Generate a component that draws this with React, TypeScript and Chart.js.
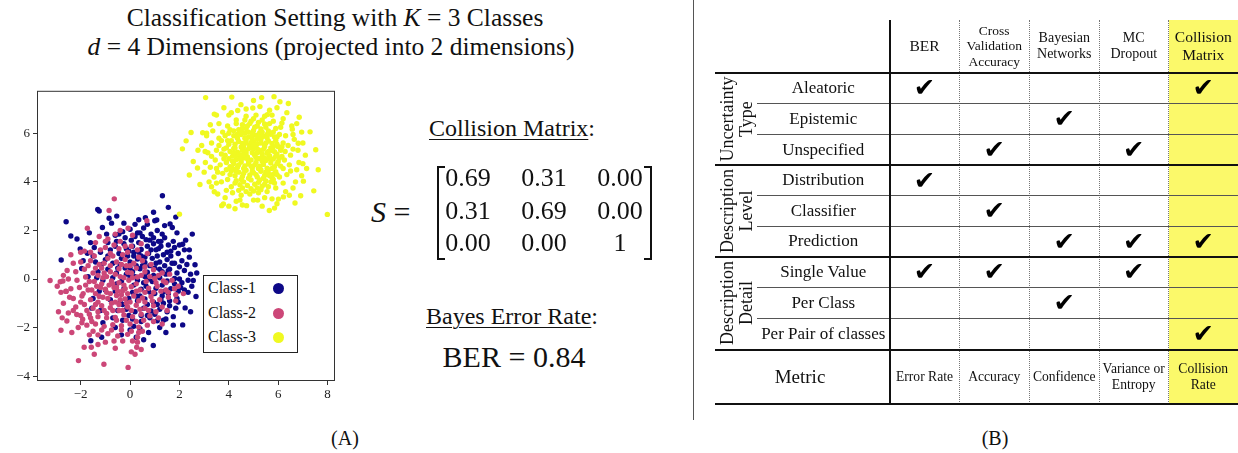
import React, { useEffect, useRef } from "react";
import { Chart, registerables } from "chart.js";
Chart.register(...registerables);

// ---------- DATA ----------
const class1: number[][] = [
  [-0.3,1.95],[0.0,2.05],[0.3,1.9],[0.55,2.1],[0.85,1.85],[1.1,2.0],[-0.6,1.8],[1.4,1.7],
  [-0.9,1.5],[-0.55,1.55],[-0.25,1.45],[0.05,1.6],[0.35,1.5],[0.65,1.62],[0.95,1.45],[1.25,1.55],[1.55,1.4],[1.8,1.3],
  [-1.2,1.1],[-0.8,1.2],[-0.45,1.05],[-0.15,1.25],[0.15,1.1],[0.45,1.22],[0.75,1.05],[1.05,1.2],[1.35,1.0],[1.65,1.15],[1.95,1.05],[2.2,1.2],
  [-1.4,0.7],[-1.0,0.8],[-0.7,0.65],[-0.35,0.85],[0.0,0.7],[0.3,0.82],[0.6,0.68],[0.9,0.85],[1.2,0.7],[1.5,0.8],[1.8,0.65],[2.1,0.75],
  [-1.3,0.3],[-0.9,0.4],[-0.55,0.25],[-0.2,0.45],[0.1,0.3],[0.4,0.42],[0.7,0.28],[1.0,0.45],[1.3,0.3],[1.6,0.4],[1.9,0.25],[2.2,0.35],[2.45,0.2],
  [-1.1,-0.05],[-0.7,0.05],[-0.35,-0.1],[0.0,0.08],[0.3,-0.05],[0.6,0.1],[0.9,-0.1],[1.2,0.05],[1.5,-0.08],[1.8,0.02],[2.1,-0.15],[2.35,-0.05],
  [-1.0,-0.45],[-0.6,-0.5],[-0.25,-0.4],[0.1,-0.55],[0.45,-0.42],[0.75,-0.5],[1.05,-0.38],[1.35,-0.52],[1.65,-0.4],[1.95,-0.5],[2.2,-0.45],
  [-0.8,-0.85],[-0.4,-0.95],[-0.05,-0.8],[0.3,-0.9],[0.6,-0.82],[0.95,-0.95],[1.25,-0.85],[1.6,-0.9],[1.9,-0.8],
  [-0.5,-1.3],[-0.15,-1.25],[0.2,-1.35],[0.55,-1.2],[0.85,-1.32],[1.2,-1.25],[1.5,-1.35],[1.85,-1.2],
  [-0.3,-1.7],[0.1,-1.65],[0.45,-1.75],[0.8,-1.6],[1.1,-1.72],[1.45,-1.65],
  [0.0,-2.1],[0.4,-2.05],[0.75,-2.2],[1.2,-2.0],[1.0,2.4],
  [1.31,3.43],[1.55,2.95],[-1.31,2.86],[-1.25,2.8],[-2.59,2.36],[-2.4,1.77],[-2.79,0.78],[-0.54,2.59],[0.35,2.44],[0.62,2.52],
  [1.08,2.43],[1.62,2.27],[1.71,2.12],[-1.12,2.12],[2.13,1.43],[2.4,1.2],[2.52,1.85],[2.63,0.59],[2.67,-0.72],[2.56,-0.06],
  [2.23,-1.19],[2.13,-1.89],[0.94,-2.74],[-1.15,-2.4],[-1.59,-2.54],[-1.96,0.43],[-1.73,1.06],[-2.02,1.24],
  [-0.75,2.3],[-0.95,1.85],[-1.6,1.5],[-1.5,0.95],[0.2,1.75],[0.7,1.35],[1.15,1.55],[0.45,0.95],[0.8,0.55],[1.1,0.95],
  [1.4,0.55],[0.25,0.55],[-0.1,0.95],[0.55,-0.15],[0.95,0.15],[1.3,-0.25],[0.15,-0.25],[0.4,-0.7],[0.85,-0.6],[1.1,-1.05],
  [0.7,-1.5],[-0.3,-1.05],[-0.7,-1.6],[-1.2,-1.3],[-1.5,-0.8],[-1.7,0.1],[1.75,-1.55],[0.25,-2.4],[-0.35,-2.3],[1.65,0.95],
  [-0.6,1.35],[-0.2,1.7],[0.1,1.35],[0.5,1.75],[0.8,1.6],[1.3,1.85],[1.5,1.1],[1.75,1.55],[2.0,1.4],[-0.4,0.6],
  [0.15,0.95],[0.5,0.55],[0.85,1.2],[1.2,0.4],[1.45,0.2],[1.7,0.65],[2.0,0.5],[2.3,0.6],[2.05,-0.35],[1.8,-0.2],
  [1.55,-0.6],[1.3,-0.7],[1.0,-0.6],[0.65,-0.3],[0.2,0.1],[-0.15,0.2],[-0.5,0.45],[-0.9,0.95],[-1.15,0.6],[-1.35,0.05],
  [0.35,1.1],[0.95,1.7],[1.15,1.25],[0.6,0.9],[0.0,0.45],[1.6,-1.1],[1.35,-1.0],[0.7,-1.05],[0.45,-1.5],[-0.05,-1.5],
  [1.95,-0.95],[2.35,-0.55],[2.4,0.9],[2.25,1.6],[1.9,1.9],[0.7,2.25],[0.2,2.25],[-0.25,2.3],[-0.85,2.5],[1.85,2.55],
  [1.4,2.2],[0.95,2.75],[-1.65,1.9],[-2.15,1.65],[-1.9,0.75],[-1.45,1.3],[-0.05,1.15],[1.0,-1.45],[1.35,-1.7],[0.55,-2.5],
  [1.45,-2.2],[1.75,-1.9],[2.45,-1.35],[2.5,-0.3],[2.7,0.25],[-0.55,-0.2],[-1.25,-0.5],[-1.55,-1.2],[-1.1,-1.8],[-0.6,-2.0],
  [0.15,-1.95],[2.0,0.0],[1.05,0.65],[0.75,0.0],[0.25,-0.7],[1.55,0.35],[1.25,1.35],[0.4,1.9],[-0.45,1.85]
];

const class2: number[][] = [
  [-0.9,1.65],[-0.4,1.55],[0.1,1.8],[-1.4,1.5],[-0.08,2.09],[-0.4,2.0],
  [-1.6,1.1],[-1.2,1.2],[-0.8,1.05],[-0.45,1.25],[-0.1,1.1],[0.3,1.2],[0.7,1.05],[-2.0,1.1],[-1.85,1.15],
  [-2.0,0.7],[-1.6,0.75],[-1.25,0.6],[-0.9,0.85],[-0.55,0.7],[-0.2,0.8],[0.15,0.65],[0.5,0.75],[0.85,0.6],
  [-2.2,0.3],[-1.85,0.4],[-1.5,0.25],[-1.15,0.45],[-0.8,0.3],[-0.45,0.42],[-0.1,0.28],[0.25,0.45],[0.6,0.3],[0.95,0.38],[1.3,0.25],
  [-2.5,0.0],[-2.15,-0.05],[-1.8,0.08],[-1.45,-0.1],[-1.1,0.05],[-0.75,-0.08],[-0.4,0.1],[-0.05,-0.05],[0.3,0.08],[0.65,-0.1],[1.0,0.02],[1.35,-0.08],[1.7,-0.05],
  [-2.4,-0.4],[-2.05,-0.35],[-1.7,-0.45],[-1.35,-0.3],[-1.0,-0.42],[-0.65,-0.35],[-0.3,-0.48],[0.05,-0.32],[0.4,-0.45],[0.75,-0.38],[1.1,-0.3],[1.45,-0.45],[1.8,-0.4],
  [-2.3,-0.8],[-1.95,-0.7],[-1.6,-0.85],[-1.25,-0.72],[-0.9,-0.8],[-0.55,-0.68],[-0.2,-0.82],[0.15,-0.7],[0.5,-0.78],[0.85,-0.72],[1.2,-0.85],[1.55,-0.75],
  [-2.2,-1.15],[-1.85,-1.05],[-1.5,-1.2],[-1.15,-1.1],[-0.8,-1.18],[-0.45,-1.05],[-0.1,-1.15],[0.25,-1.08],[0.6,-1.2],[0.95,-1.1],[1.3,-1.15],
  [-2.0,-1.5],[-1.65,-1.45],[-1.3,-1.55],[-0.95,-1.42],[-0.6,-1.58],[-0.25,-1.48],[0.1,-1.55],[0.45,-1.45],[0.8,-1.52],[1.15,-1.6],
  [-1.75,-1.9],[-1.4,-1.85],[-1.05,-1.95],[-0.7,-1.88],[-0.35,-1.92],[0.0,-1.85],[0.35,-1.98],[0.7,-1.9],
  [-1.3,-2.3],[-0.9,-2.25],[-0.5,-2.35],[-0.1,-2.28],[0.3,-2.4],
  [-0.7,-0.2],[-0.35,-0.65],[-0.95,-0.55],[-0.6,-0.95],[-0.25,-0.25],[-1.15,-0.2],[-0.45,-1.3],[-0.8,0.55],[-1.3,-0.95],[0.0,-0.95],
  [-0.15,0.55],[-1.05,0.25],[-0.5,-0.5],[-1.4,-0.6],[0.25,-0.2],[0.05,0.25],[-0.65,1.4],[-1.0,1.55],[-1.55,-1.75],[-1.8,-0.25],
  [-2.6,-0.5],[-2.7,-1.0],[-2.5,-1.4],
  [-0.64,3.3],[-0.85,2.82],[-1.73,2.09],[0.68,2.4],[-3.24,-0.06],[-2.83,-0.11],[-2.72,-0.08],[-2.8,-2.11],[-2.09,-3.36],[-1.06,-3.51],
  [-0.08,-3.64],[0.2,-3.1],[0.27,-2.81],[-1.86,-2.81],[-1.57,-2.81],[2.16,-0.6],[-2.56,-1.73],[-2.36,-2.2],[-2.59,-0.51],[-2.16,-1.46],
  [-1.92,-1.66],[-1.65,-2.3],[0.3,-2.6],[0.35,-2.2],[1.5,-1.3],[1.85,-0.9],
  [-1.9,-0.6],[-1.55,-0.45],[-1.2,-0.35],[-0.85,-0.25],[-0.45,-0.15],[-0.1,-0.6],[0.25,-0.5],[0.6,-0.55],[0.95,-0.55],[1.25,-0.5],
  [-1.75,-1.3],[-1.4,-1.05],[-1.05,-1.3],[-0.7,-1.3],[-0.3,-1.3],[0.05,-1.3],[0.4,-1.25],[0.75,-1.3],[1.05,-1.35],
  [-1.65,-0.1],[-1.3,0.15],[-0.95,0.1],[-0.6,0.2],[-0.25,0.05],[0.1,0.05],[0.45,0.15],[0.8,0.1],[1.15,0.15],
  [-1.7,0.55],[-1.4,0.45],[-1.05,0.65],[-0.7,0.95],[-0.35,0.6],[0.0,0.55],[0.35,0.9],[0.6,0.5],
  [-1.45,0.95],[-1.0,1.3],[-0.3,1.0],[0.05,1.35],[0.45,1.45],[-1.25,1.75],[-0.6,1.85],[-0.2,1.35],
  [-2.0,-0.95],[-2.45,-0.75],[-2.3,-1.3],[-1.95,-1.8],[-2.1,-2.0],[-1.5,-2.15],[-1.15,-2.1],[-0.75,-2.1],[-0.35,-2.1],[0.05,-2.15],
  [0.5,-2.15],[0.55,-1.7],[0.95,-1.75],[1.3,-1.85],
  [-1.0,-2.6],[-0.65,-2.55],[-0.3,-2.55],[0.1,-2.55],[-1.3,-2.7],[0.45,-2.9],[0.05,-3.0],[-0.6,-2.85],[-1.45,-3.1],
  [-2.8,-0.55],[-2.9,-1.35],[-2.75,-1.6],[-2.95,-0.3],[-2.55,0.35],[-2.3,0.65],[-2.4,1.0],[-2.7,0.15],
  [-0.8,-0.6],[-0.4,-0.85],[-0.15,-1.0],[-0.75,-1.0],[-1.1,-0.75],[-0.2,-0.4],[-0.55,-0.35],[0.35,-0.9],[0.6,-0.95],[0.9,-0.9],
  [1.55,-0.55],[1.45,-0.15],[1.05,-0.15],[1.6,0.2],[1.95,-0.3],[1.85,-0.65],
  [-1.3,-1.35],[-0.95,-1.6],[-0.55,-1.7],[-0.15,-1.7],[0.25,-1.75],[-1.6,-1.6]
];

const class3: number[][] = [
  [4.2,5.9],[4.5,5.95],[4.8,5.85],[5.1,5.92],[5.4,5.88],[5.7,5.96],[4.35,5.8],[4.65,6.0],[4.95,5.78],[5.25,6.02],[5.55,5.82],
  [4.1,5.7],[4.4,5.66],[4.7,5.72],[5.0,5.64],[5.3,5.74],[5.6,5.68],[5.9,5.7],[4.25,5.55],[4.55,5.58],[4.85,5.5],[5.15,5.56],[5.45,5.52],[5.75,5.58],
  [3.9,5.4],[4.2,5.38],[4.5,5.44],[4.8,5.36],[5.1,5.42],[5.4,5.34],[5.7,5.4],[6.0,5.45],[4.05,5.25],[4.35,5.22],[4.65,5.28],[4.95,5.2],[5.25,5.26],[5.55,5.18],[5.85,5.24],[6.1,5.3],
  [3.85,5.1],[4.15,5.06],[4.45,5.12],[4.75,5.04],[5.05,5.1],[5.35,5.02],[5.65,5.08],[5.95,5.14],[4.0,4.95],[4.3,4.92],[4.6,4.98],[4.9,4.9],[5.2,4.96],[5.5,4.88],[5.8,4.94],[6.05,4.98],
  [3.9,4.8],[4.2,4.76],[4.5,4.82],[4.8,4.74],[5.1,4.8],[5.4,4.72],[5.7,4.78],[6.0,4.84],[4.05,4.62],[4.35,4.6],[4.65,4.66],[4.95,4.58],[5.25,4.64],[5.55,4.56],[5.85,4.62],
  [4.1,4.45],[4.4,4.4],[4.7,4.48],[5.0,4.38],[5.3,4.44],[5.6,4.36],[5.9,4.42],[4.25,4.25],[4.55,4.22],[4.85,4.28],[5.15,4.2],[5.45,4.26],[5.75,4.18],
  [4.3,4.05],[4.6,4.0],[4.9,4.08],[5.2,3.98],[5.5,4.04],[5.8,4.1],[4.45,3.88],[4.75,3.85],[5.05,3.9],[5.35,3.82],
  [4.4,6.15],[4.7,6.2],[5.0,6.12],[5.3,6.18],[5.6,6.1],[4.55,6.35],[4.85,6.4],[5.15,6.3],[5.45,6.38],
  [4.6,5.45],[4.9,5.62],[5.2,5.32],[5.5,5.6],[4.3,5.1],[4.7,5.2],[5.0,5.35],[5.35,5.15],[5.75,5.3],[4.4,4.7],
  [4.75,4.95],[5.05,4.7],[5.45,4.98],[5.6,4.5],[4.95,4.45],[4.6,4.35],[5.25,4.08],[4.15,4.55],[5.95,5.55],[4.0,5.55],
  [5.8,4.32],[4.55,5.1],[5.15,5.75],[4.8,6.05],[5.3,4.5],
  [3.6,5.8],[3.5,5.3],[3.45,4.9],[3.55,4.4],[3.7,4.0],[3.9,3.65],[4.15,3.55],[4.5,3.45],[4.85,3.5],[5.2,3.55],
  [5.55,3.6],[5.9,3.75],[6.2,3.95],[6.35,4.3],[6.45,4.7],[6.5,5.1],[6.4,5.5],[6.3,5.9],[6.1,6.25],[5.8,6.5],
  [5.45,6.7],[5.1,6.75],[4.7,6.7],[4.3,6.55],[3.95,6.3],[3.75,6.05],[3.3,5.6],[3.25,4.6],[3.4,4.2],[3.85,3.35],
  [4.3,3.2],[5.0,3.25],[5.75,3.3],[6.3,3.6],[6.7,4.0],[6.75,4.5],[6.8,5.3],[6.65,5.75],[6.55,6.3],[6.2,6.6],
  [5.65,6.95],[4.0,6.75],[3.6,6.4],[3.15,5.2],[3.05,4.8],[3.2,4.0],
  [3.06,7.47],[4.12,7.49],[5.33,7.47],[5.83,7.51],[6.07,7.3],[6.41,7.23],[2.0,2.67],[7.99,2.66],[2.12,5.36],[7.62,4.5],
  [7.44,3.63],[7.52,5.32],[7.29,6.06],[6.85,6.66],[2.47,6.03],[2.27,5.69],[2.4,4.28],[2.83,3.89],[3.41,6.79],[3.41,3.59],
  [3.71,3.02],[3.78,3.09],[4.25,2.89],[4.72,3.02],[5.17,3.25],[5.64,2.82],[5.85,2.92],[6.01,3.29],[6.21,3.38],[6.68,3.13],
  [6.91,3.43],[7.02,4.03],[7.15,4.55],[6.84,4.8],[6.81,5.59],[6.57,6.17],[6.15,6.42],[5.56,6.77],[4.97,7.04],[4.49,7.18],
  [4.36,6.94],[5.26,7.1],[2.73,4.57],[2.56,4.84],[3.04,5.25],[2.94,6.02],[3.1,6.0],
  [3.6,5.5],[3.7,5.15],[3.65,4.7],[3.75,4.35],[3.95,4.1],[4.1,3.8],[4.4,3.65],[4.7,3.6],[5.0,3.62],[5.3,3.68],
  [5.6,3.8],[5.85,3.95],[6.05,4.2],[6.2,4.55],[6.25,4.9],[6.28,5.25],[6.2,5.6],[6.05,5.95],[5.9,6.2],[5.65,6.4],
  [5.35,6.55],[5.0,6.6],[4.65,6.55],[4.3,6.4],[4.05,6.15],[3.85,5.9],[3.7,5.7],
  [3.8,5.35],[3.8,4.95],[3.9,4.5],[4.05,4.3],[4.25,3.95],[4.55,3.75],[4.9,3.72],[5.15,3.75],[5.45,3.9],[5.7,4.0],
  [5.95,4.3],[6.1,4.65],[6.15,5.05],[6.15,5.45],[5.95,5.85],[5.8,6.05],[5.5,6.25],[5.2,6.45],[4.9,6.5],[4.55,6.2],
  [4.2,6.1],[3.95,5.7],[4.0,6.0],
  [4.35,5.95],[4.65,5.8],[4.95,5.95],[5.25,5.85],[5.55,5.95],[5.85,5.85],[4.25,5.4],[4.55,5.3],[4.85,5.45],[5.15,5.2],
  [5.45,5.45],[5.8,5.45],[4.15,4.85],[4.45,4.95],[4.8,4.85],[5.1,5.0],[5.35,4.85],[5.65,4.95],[5.95,4.75],[4.3,4.45],
  [4.6,4.55],[4.9,4.65],[5.2,4.55],[5.5,4.4],[5.75,4.55],[4.5,4.1],[4.8,4.15],[5.1,4.3],[5.4,4.15],[5.65,4.25],
  [4.75,6.3],[5.05,6.25],[5.35,6.05],[4.5,6.05],[4.2,5.2],[5.9,5.05],[5.6,5.25],[5.0,5.5],[4.7,5.6],[5.3,5.6],
  [3.1,5.9],[2.9,5.5],[3.0,4.4],[3.3,3.8],[3.55,3.5],[4.0,3.0],[4.55,3.05],[5.35,3.0],[5.95,3.1],[6.45,3.45],
  [6.6,3.75],[6.95,4.25],[7.0,4.75],[7.1,5.1],[7.0,5.6],[6.95,6.05],[6.75,6.4],[6.35,6.85],[5.95,7.05],[5.0,7.35],
  [4.7,7.0],[3.8,7.05],[3.5,6.75],[3.25,6.35],[2.75,5.3],[3.35,6.1],[6.6,5.95],[3.3,5.05],[3.5,4.55],[3.5,3.95],
  [6.5,4.45],[6.6,5.35],[4.1,6.85],[5.75,6.75],[4.45,3.25],[5.45,3.35]
];

const xTicks = [-2, 0, 2, 4, 6, 8];
const yTicks = [-4, -2, 0, 2, 4, 6];
const legendLabels = ["Class-1", "Class-2", "Class-3"];
const classColors = ["#0d0887", "#cc4778", "#f0f921"];

const matrixValues = [
  ["0.69", "0.31", "0.00"],
  ["0.31", "0.69", "0.00"],
  ["0.00", "0.00", "1"],
];
const berValue = "0.84";

const tableColumns = [["BER"], ["Cross", "Validation", "Accuracy"], ["Bayesian", "Networks"], ["MC", "Dropout"], ["Collision", "Matrix"]];
const rowLabels = ["Aleatoric", "Epistemic", "Unspecified", "Distribution", "Classifier", "Prediction", "Single Value", "Per Class", "Per Pair of classes"];
const groupLabels = [["Uncertainty", "Type"], ["Description", "Level"], ["Description", "Detail"]];
const checks = [
  [1, 0, 0, 0, 1],
  [0, 0, 1, 0, 0],
  [0, 1, 0, 1, 0],
  [1, 0, 0, 0, 0],
  [0, 1, 0, 0, 0],
  [0, 0, 1, 1, 1],
  [1, 1, 0, 1, 0],
  [0, 0, 1, 0, 0],
  [0, 0, 0, 0, 1],
];
const metricLabels = [["Error Rate"], ["Accuracy"], ["Confidence"], ["Variance or", "Entropy"], ["Collision", "Rate"]];

// ---------- LAYOUT ----------
const SERIF = "'Liberation Serif', 'DejaVu Serif', serif";
const colEdges = [890, 959, 1029.5, 1099, 1168.5, 1238];
const rowEdges = [72.7, 103, 134, 165, 195.5, 226, 256.5, 287, 318, 349.5, 404];
const TABLE_TOP = 20;

const fmt = (v: number) => (v < 0 ? "\u2212" + Math.abs(v) : String(v));

const boxPlugin = {
  id: "boxBorder",
  afterDraw(chart: any) {
    const { ctx, chartArea } = chart;
    const { left, top, right, bottom } = chartArea;
    ctx.save();
    ctx.strokeStyle = "#333";
    ctx.lineWidth = 1;
    ctx.strokeRect(left + 0.5, top + 0.5, right - left - 1, bottom - top - 1);
    ctx.restore();
  },
};

function Scatter() {
  const ref = useRef<HTMLCanvasElement>(null);
  useEffect(() => {
    if (!ref.current) return;
    const toPts = (a: number[][]) => a.map(([x, y]) => ({ x, y }));
    const tickFont = { family: SERIF, size: 13 };
    const chart = new Chart(ref.current, {
      type: "scatter",
      data: {
        datasets: [
          { label: legendLabels[0], data: toPts(class1), backgroundColor: classColors[0], order: 3 },
          { label: legendLabels[1], data: toPts(class2), backgroundColor: classColors[1], order: 2 },
          { label: legendLabels[2], data: toPts(class3), backgroundColor: classColors[2], order: 1 },
        ],
      },
      options: {
        animation: false,
        responsive: false,
        devicePixelRatio: 1,
        events: [],
        layout: { padding: { top: 6, right: 10, left: 0, bottom: 0 } },
        elements: { point: { radius: 2.7, borderWidth: 0, hoverRadius: 2.7 } },
        plugins: { legend: { display: false }, tooltip: { enabled: false } },
        scales: {
          x: {
            type: "linear",
            min: -3.77,
            max: 8.3,
            afterBuildTicks: (s: any) => { s.ticks = xTicks.map((v) => ({ value: v })); },
            afterFit: (s: any) => { s.height = 24; },
            ticks: { font: tickFont, color: "#222", padding: 2, autoSkip: false, maxRotation: 0, callback: (v: any) => fmt(Number(v)) },
            grid: { drawOnChartArea: false, drawTicks: true, tickLength: 4, color: "#333" },
            border: { display: false },
          },
          y: {
            type: "linear",
            min: -4.2,
            max: 7.75,
            afterBuildTicks: (s: any) => { s.ticks = yTicks.map((v) => ({ value: v })); },
            afterFit: (s: any) => { s.width = 37; },
            ticks: { font: tickFont, color: "#222", padding: 3, autoSkip: false, callback: (v: any) => fmt(Number(v)) },
            grid: { drawOnChartArea: false, drawTicks: true, tickLength: 4, color: "#333" },
            border: { display: false },
          },
        },
      },
      plugins: [boxPlugin],
    } as any);
    return () => chart.destroy();
  }, []);
  return (
    <canvas
      ref={ref}
      width={345}
      height={325}
      style={{ position: "absolute", left: 0, top: 80, width: 345, height: 325 }}
    />
  );
}

const abs = (o: React.CSSProperties): React.CSSProperties => ({ position: "absolute", ...o });

function Legend() {
  const ys = [288, 313, 337];
  return (
    <div style={abs({ left: 203, top: 275, width: 95, height: 78, border: "1px solid #222", background: "#fff", boxSizing: "border-box" })}>
      {legendLabels.map((l, i) => (
        <React.Fragment key={l}>
          <div style={abs({ left: 4, top: ys[i] - 275 - 10, height: 18, lineHeight: "18px", fontFamily: SERIF, fontSize: 16, color: "#111" })}>{l}</div>
          <div style={abs({ left: 278 - 203 - 6, top: ys[i] - 275 - 6.5, width: 11, height: 11, borderRadius: "50%", background: classColors[i] })} />
        </React.Fragment>
      ))}
    </div>
  );
}

function CenterText({ x, y, size, children, family = SERIF, style = {}, hf = 1.15 }: any) {
  const h = size * hf;
  return (
    <div style={abs({ left: x - 150, top: y - h / 2, width: 300, height: h, lineHeight: h + "px", textAlign: "center", fontFamily: family, fontSize: size, color: "#111", whiteSpace: "nowrap", ...style })}>
      {children}
    </div>
  );
}

function LeftPanel() {
  const rowY = [178, 211, 243];
  const colX = [468, 544, 620];
  const ul = { textDecoration: "underline", textDecorationThickness: "1px", textUnderlineOffset: "3px" } as React.CSSProperties;
  return (
    <>
      <div style={abs({ left: 0, top: 3, width: 670, height: 29, lineHeight: "29px", textAlign: "center", fontFamily: SERIF, fontSize: 25.5, color: "#111", whiteSpace: "nowrap" })}>
        Classification Setting with <i>K</i>&nbsp;=&nbsp;3 Classes
      </div>
      <div style={abs({ left: 0, top: 32, width: 662, height: 29, lineHeight: "29px", textAlign: "center", fontFamily: SERIF, fontSize: 25.5, color: "#111", whiteSpace: "nowrap" })}>
        <i>d</i>&nbsp;=&nbsp;4 Dimensions (projected into 2 dimensions)
      </div>
      <Scatter />
      <Legend />
      <CenterText x={512} y={129} size={24}><span style={ul}>Collision Matrix</span>:</CenterText>
      <div style={abs({ left: 371, top: 195, height: 34, lineHeight: "34px", fontFamily: SERIF, fontSize: 30, color: "#111", whiteSpace: "nowrap" })}>
        <i>S</i>&nbsp;=
      </div>
      <div style={abs({ left: 437, top: 166, width: 8, height: 94, borderLeft: "2px solid #111", borderTop: "2px solid #111", borderBottom: "2px solid #111", boxSizing: "border-box" })} />
      <div style={abs({ left: 644, top: 166, width: 8, height: 94, borderRight: "2px solid #111", borderTop: "2px solid #111", borderBottom: "2px solid #111", boxSizing: "border-box" })} />
      {matrixValues.map((row, r) =>
        row.map((v, c) => (
          <CenterText key={r + "-" + c} x={colX[c]} y={rowY[r]} size={26} hf={1.1}>{v}</CenterText>
        ))
      )}
      <CenterText x={512} y={317} size={24}><span style={ul}>Bayes Error Rate</span>:</CenterText>
      <CenterText x={514} y={357} size={30}>BER&nbsp;=&nbsp;{berValue}</CenterText>
      <CenterText x={345} y={438} size={20}>(A)</CenterText>
      <div style={abs({ left: 693, top: 0, width: 1, height: 420, background: "#555" })} />
    </>
  );
}

function RightPanel() {
  const els: React.ReactNode[] = [];
  const L0 = 715, L1 = 756.5, R = 1238, BOT = rowEdges[rowEdges.length - 1];
  els.push(<div key="yel" style={abs({ left: colEdges[4], top: TABLE_TOP, width: R - colEdges[4], height: BOT - TABLE_TOP, background: "#fbf96a" })} />);
  [1, 2, 3, 4].forEach((i) =>
    els.push(<div key={"dv" + i} style={abs({ left: colEdges[i] - 0.5, top: TABLE_TOP, width: 0, height: BOT - TABLE_TOP, borderLeft: "1px dotted #777" })} />)
  );
  rowEdges.forEach((y, i) => {
    const thick = i === 0 || i === 3 || i === 6 || i === 9 || i === 10;
    const left = thick ? L0 : L1;
    els.push(<div key={"h" + i} style={abs({ left, top: y - (thick ? 1 : 0.5), width: R - left, height: thick ? 2 : 1, background: thick ? "#111" : "#555" })} />);
  });
  els.push(<div key="tv" style={abs({ left: colEdges[0] - 1, top: TABLE_TOP, width: 2, height: BOT - TABLE_TOP, background: "#111" })} />);
  tableColumns.forEach((lines, c) => {
    const cx = (colEdges[c] + colEdges[c + 1]) / 2;
    const size = c === 0 ? 15.5 : c === 4 ? 15.5 : c === 1 ? 13.5 : 14;
    const lh = c === 1 ? 15.5 : c === 4 ? 18 : 16.5;
    const cy = 46;
    lines.forEach((t, k) => {
      const y = cy + (k - (lines.length - 1) / 2) * lh;
      els.push(<CenterText key={"hd" + c + k} x={cx} y={y} size={size} hf={lh / size - 0.02}>{t}</CenterText>);
    });
  });
  rowLabels.forEach((t, r) => {
    const cy = (rowEdges[r] + rowEdges[r + 1]) / 2;
    els.push(<CenterText key={"rl" + r} x={(L1 + colEdges[0]) / 2} y={cy} size={17}>{t}</CenterText>);
    checks[r].forEach((v, c) => {
      if (!v) return;
      const cx = (colEdges[c] + colEdges[c + 1]) / 2;
      els.push(<CenterText key={"ck" + r + c} x={cx} y={cy} size={25.5} hf={1.0} family="'DejaVu Sans', sans-serif" style={{ color: "#000", width: 36, left: cx - 18 }}>{"\u2714"}</CenterText>);
    });
  });
  groupLabels.forEach((lines, g) => {
    const y0 = rowEdges[g * 3], y1 = rowEdges[g * 3 + 3];
    const cy = (y0 + y1) / 2, cx = 736.5;
    const w = 110, h = 40;
    els.push(
      <div key={"g" + g} style={abs({ left: cx - w / 2, top: cy - h / 2, width: w, height: h, transform: "rotate(-90deg)", textAlign: "center", fontFamily: SERIF, fontSize: 18, lineHeight: "19px", color: "#111", whiteSpace: "nowrap", paddingTop: 1, boxSizing: "border-box" })}>
        {lines.map((t) => <div key={t}>{t}</div>)}
      </div>
    );
  });
  const my = (rowEdges[9] + rowEdges[10]) / 2;
  els.push(<CenterText key="metric" x={800} y={my} size={19}>Metric</CenterText>);
  metricLabels.forEach((lines, c) => {
    const cx = (colEdges[c] + colEdges[c + 1]) / 2;
    lines.forEach((t, k) => {
      const y = my + (k - (lines.length - 1) / 2) * 16;
      els.push(<CenterText key={"ml" + c + k} x={cx} y={y} size={13.6} hf={1.15}>{t}</CenterText>);
    });
  });
  els.push(<CenterText key="B" x={995} y={438} size={20}>(B)</CenterText>);
  return <>{els}</>;
}

export default function App() {
  return (
    <div style={abs({ left: 0, top: 0, width: 1238, height: 453, background: "#fff", overflow: "hidden" })}>
      <LeftPanel />
      <RightPanel />
    </div>
  );
}
